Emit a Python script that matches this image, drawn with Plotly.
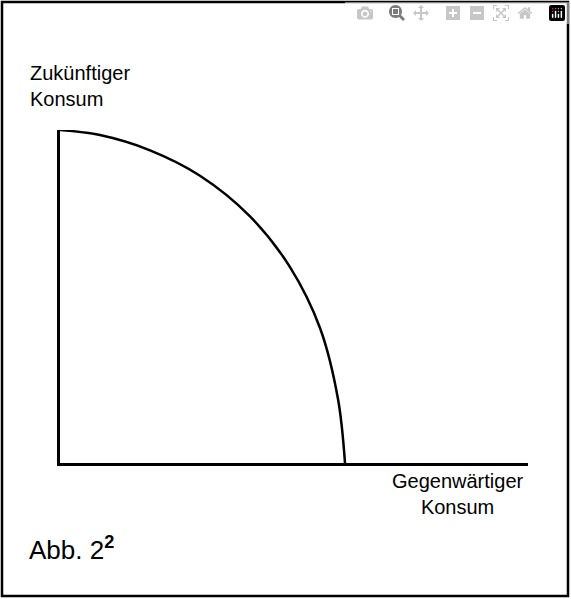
import plotly.graph_objects as go

# frontier (arbitrary units, origin at the axis corner)
gegenwaertig = [0, 40, 90, 140, 190, 230, 260, 278, 285]
zukuenftig = [328, 323, 308, 283, 243, 193, 133, 63, 0]

W, H = 571, 599
L, R, T, B = 60, 43, 130, 136
pw, ph = W - L - R, H - T - B


def px(x):
    return (x - L) / pw


def py(y):
    return (H - B - y) / ph


fig = go.Figure()
fig.add_trace(go.Scatter(x=gegenwaertig, y=zukuenftig, mode="lines",
                         line=dict(color="black", width=2.5, shape="spline"),
                         showlegend=False))

fig.update_xaxes(range=[0, pw], showline=True, linecolor="black", linewidth=2.5,
                 showgrid=False, zeroline=False, showticklabels=False, ticks="")
fig.update_yaxes(range=[0, ph - 5], showline=True, linecolor="black", linewidth=2.5,
                 showgrid=False, zeroline=False, showticklabels=False, ticks="")

font = dict(family="Liberation Sans, Arial", size=20, color="black")
fig.update_layout(
    width=W, height=H, margin=dict(l=L, r=R, t=T, b=B),
    plot_bgcolor="white", paper_bgcolor="white", font=font,
    shapes=[dict(type="rect", xref="paper", yref="paper",
                 x0=px(2), x1=px(568), y0=py(596), y1=py(2),
                 line=dict(color="black", width=2.5))],
    annotations=[
        dict(text="Zukünftiger<br>Konsum", xref="paper", yref="paper",
             x=px(28), y=py(60), xanchor="left", yanchor="top",
             showarrow=False, align="left"),
        dict(text="Gegenwärtiger<br>Konsum", xref="paper", yref="paper",
             x=px(390), y=py(468), xanchor="left", yanchor="top",
             showarrow=False, align="center"),
        dict(text="Abb. 2<sup><b>2</b></sup>", xref="paper", yref="paper",
             x=px(27), y=py(530), xanchor="left", yanchor="top",
             showarrow=False, font=dict(size=26)),
    ],
)

fig.write_html("out.html", post_script="document.body.style.margin='0';")
